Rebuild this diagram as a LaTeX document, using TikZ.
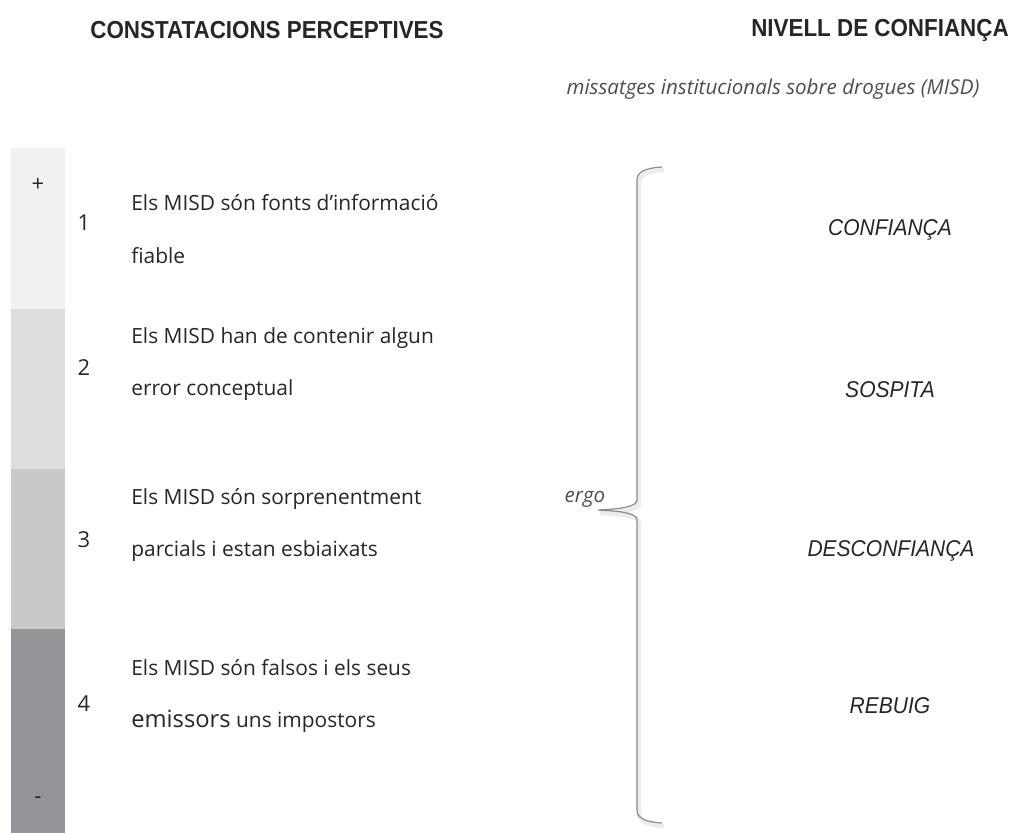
\documentclass[tikz,border=0pt]{standalone}
\usepackage{fontspec}
\setmainfont{Open Sans}
\newfontfamily\headfont[FakeStretch=0.91]{Liberation Sans}
\newfontfamily\narrowfont[FakeStretch=0.92]{Liberation Sans}
\usetikzlibrary{positioning}

\definecolor{barone}{HTML}{F1F1F1}
\definecolor{bartwo}{HTML}{DCDDDF}
\definecolor{barthree}{HTML}{C8C9CB}
\definecolor{barfour}{HTML}{939598}
\definecolor{inktext}{HTML}{262626}
\definecolor{inklevel}{HTML}{4D4D4D}
\definecolor{bracegray}{HTML}{8C8C8C}

\newcommand{\bracecurve}{(662,167) .. controls (645,168) and (637,172) .. (637,180)
    -- (637,500) .. controls (637,507) and (620,509) .. (598,510)
    .. controls (620,511) and (637,513) .. (637,520)
    -- (637,810) .. controls (637,818) and (645,822) .. (662,823)}

\begin{document}
\begin{tikzpicture}[x=0.02cm,y=-0.02cm,
    heading/.style={font=\headfont\bfseries\fontsize{14}{16}\selectfont,text=inktext,inner sep=0pt},
    claim/.style={align=left,anchor=west,font=\fontsize{11.9}{30}\selectfont,text=inktext,inner sep=0pt},
    num/.style={font=\fontsize{12.5}{14}\selectfont,text=inktext,inner sep=0pt},
    note/.style={font=\itshape\fontsize{11.7}{14}\selectfont,text=inklevel,inner sep=0pt},
    level/.style={font=\narrowfont\itshape\fontsize{13}{15}\selectfont,text=inktext,inner sep=0pt}]
    \useasboundingbox (0,0) rectangle (1011,833);
    % scale bar
    \fill[barone] (11,148) rectangle (65,309);
    \fill[bartwo] (11,309) rectangle (65,469);
    \fill[barthree] (11,469) rectangle (65,629);
    \fill[barfour] (11,629) rectangle (65,833);
    \node[num] (plus) at (38,185) {+};
    \node[num] (minus) at (38,800) {-};
    % headings
    \node[heading] (headleft) at (267,30) {CONSTATACIONS PERCEPTIVES};
    \node[heading] (headright) at (880,30) {NIVELL DE CONFIANÇA};
    \node[note] (misd) at (773,89) {missatges institucionals sobre drogues (MISD)};
    % statements
    \node[num] (n1) at (84,223) {1};
    \node[claim] (c1) at (131,229) {Els MISD són fonts d’informació\\fiable};
    \node[num] (n2) at (84,368) {2};
    \node[claim] (c2) at (131,364) {Els MISD han de contenir algun\\error conceptual};
    \node[num] (n3) at (84,540) {3};
    \node[claim] (c3) at (131,525) {Els MISD són sorprenentment\\parcials i estan esbiaixats};
    \node[num] (n4) at (84,704) {4};
    \node[claim] (c4) at (131,696) {Els MISD són falsos i els seus\\{\fontsize{13.5}{30}\selectfont emissors} uns impostors};
    % brace
    \draw[gray!15,line width=2.5pt,shift={(2,3)}] \bracecurve;
    \draw[bracegray,line width=0.7pt] \bracecurve;
    \node[note] (ergo) at (585,499) {ergo};
    % levels
    \node[level] (l1) at (890,230) {CONFIANÇA};
    \node[level] (l2) at (890,390) {SOSPITA};
    \node[level] (l3) at (891,551) {DESCONFIANÇA};
    \node[level] (l4) at (890,706) {REBUIG};
\end{tikzpicture}
\end{document}
